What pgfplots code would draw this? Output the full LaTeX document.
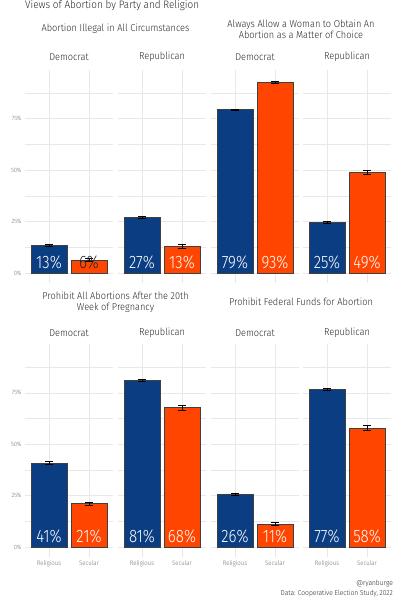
\documentclass[border=0pt]{standalone}
\usepackage{fontspec}
\setmainfont{Fira Sans}[UprightFont=* Light, FakeStretch=0.92]
\newfontfamily\labfont{Fira Sans}[UprightFont=* Light, FakeStretch=0.84]
\usepackage{pgfplots}
\pgfplotsset{compat=1.18}
\definecolor{navy}{RGB}{10,61,130}
\definecolor{orng}{RGB}{255,69,0}
\definecolor{gridc}{RGB}{232,232,232}
\definecolor{txt}{RGB}{40,40,40}
\definecolor{tickc}{RGB}{110,110,110}

\pgfplotsset{
  facet/.style={
    scale only axis, width=88pt, height=212.6pt,
    xmin=0.4, xmax=2.6, ymin=-4.7, ymax=98.7,
    axis line style={draw=none},
    major tick length=0pt, minor tick length=0pt,
    xtick={1,2}, ytick={0,25,50,75}, minor ytick={12.5,37.5,62.5,87.5},
    xmajorgrids, ymajorgrids, yminorgrids,
    major grid style={gridc, line width=0.5pt},
    minor grid style={gridc, line width=0.35pt},
    xticklabels={}, yticklabels={},
    anchor=south west, clip=false,
    /pgf/number format/assume math mode=true,
  },
  ylab/.style={
    yticklabel={\pgfmathprintnumber{\tick}\%},
    yticklabel style={font=\fontsize{6.2}{7}\selectfont, text=tickc},
  },
  xlab/.style={
    xticklabels={Religious,Secular},
    xticklabel style={font=\fontsize{6.5}{7}\selectfont, text=tickc},
  },
  barstyle/.style={ybar, bar shift=0pt, bar width=0.9, draw=black!75, line width=0.4pt,
    error bars/.cd, y dir=both, y explicit,
    error bar style={draw=black, line width=0.5pt, solid},
    error mark options={draw=black, mark size=4pt, line width=0.5pt, rotate=90},
    /pgfplots/.cd},
  labstyle/.style={draw=none, mark=none, nodes near coords, point meta=explicit symbolic,
    every node near coord/.append style={anchor=center, font=\labfont\fontsize{18}{18}\selectfont, text=#1}},
}

% #1 religious value, #2 err, #3 secular value, #4 err, #5 label1, #6 label2, #7 color label2
\newcommand{\facetbars}[7]{%
  \addplot[barstyle, fill=navy] coordinates {(1,#1) +- (0,#2)};
  \addplot[barstyle, fill=orng] coordinates {(2,#3) +- (0,#4)};
  \addplot[labstyle=white] coordinates {(1,5.3) [#5]};
  \addplot[labstyle=#7] coordinates {(2,5.3) [#6]};
}

\begin{document}
\begin{tikzpicture}
\path[use as bounding box] (0,0) rectangle (394pt,-600pt);

% overall title
\node[anchor=base west, text=txt, font=\fontsize{10.8}{12}\selectfont, inner sep=0pt] at (25pt,-8.8pt) {Views of Abortion by Party and Religion};

% panel titles
\node[align=center, text=txt, font=\fontsize{10}{10.6}\selectfont] at (115.5pt,-29pt) {Abortion Illegal in All Circumstances};
\node[align=center, text=txt, font=\fontsize{10}{10.6}\selectfont] at (301pt,-29pt) {Always Allow a Woman to Obtain An\\Abortion as a Matter of Choice};
\node[align=center, text=txt, font=\fontsize{10}{10.6}\selectfont] at (115.5pt,-302pt) {Prohibit All Abortions After the 20th\\Week of Pregnancy};
\node[align=center, text=txt, font=\fontsize{10}{10.6}\selectfont] at (301pt,-302pt) {Prohibit Federal Funds for Abortion};

% strip labels
\foreach \xx/\lab in {69/Democrat,162/Republican,255/Democrat,347/Republican}{
  \node[text=txt, font=\fontsize{10}{10.6}\selectfont] at (\xx pt,-57pt) {\lab};
  \node[text=txt, font=\fontsize{10}{10.6}\selectfont] at (\xx pt,-333pt) {\lab};
}

% ---------- top row ----------
\begin{axis}[facet, ylab, at={(25pt,-282.6pt)}]
\facetbars{13.4}{0.5}{6.4}{0.7}{13\%}{6\%}{black!85}
\end{axis}
\begin{axis}[facet, at={(118pt,-282.6pt)}]
\facetbars{27.3}{0.5}{13.0}{1.0}{27\%}{13\%}{white}
\end{axis}
\begin{axis}[facet, at={(211pt,-282.6pt)}]
\facetbars{79.4}{0.4}{92.8}{0.5}{79\%}{93\%}{white}
\end{axis}
\begin{axis}[facet, at={(303pt,-282.6pt)}]
\facetbars{24.6}{0.4}{48.8}{1.0}{25\%}{49\%}{white}
\end{axis}

% ---------- bottom row ----------
\begin{axis}[facet, ylab, xlab, at={(25pt,-556.7pt)}]
\facetbars{41.0}{0.5}{21.2}{0.7}{41\%}{21\%}{white}
\end{axis}
\begin{axis}[facet, xlab, at={(118pt,-556.7pt)}]
\facetbars{81.2}{0.5}{67.8}{1.2}{81\%}{68\%}{white}
\end{axis}
\begin{axis}[facet, xlab, at={(211pt,-556.7pt)}]
\facetbars{25.8}{0.5}{11.2}{0.7}{26\%}{11\%}{white}
\end{axis}
\begin{axis}[facet, xlab, at={(303pt,-556.7pt)}]
\facetbars{76.6}{0.5}{57.8}{1.2}{77\%}{58\%}{white}
\end{axis}

% caption
\node[anchor=base east, text=txt, font=\fontsize{7.2}{8}\selectfont, inner sep=0pt] at (393pt,-585.5pt) {@ryanburge};
\node[anchor=base east, text=txt, font=\fontsize{7.2}{8}\selectfont, inner sep=0pt] at (393pt,-595pt) {Data: Cooperative Election Study, 2022};
\end{tikzpicture}
\end{document}
